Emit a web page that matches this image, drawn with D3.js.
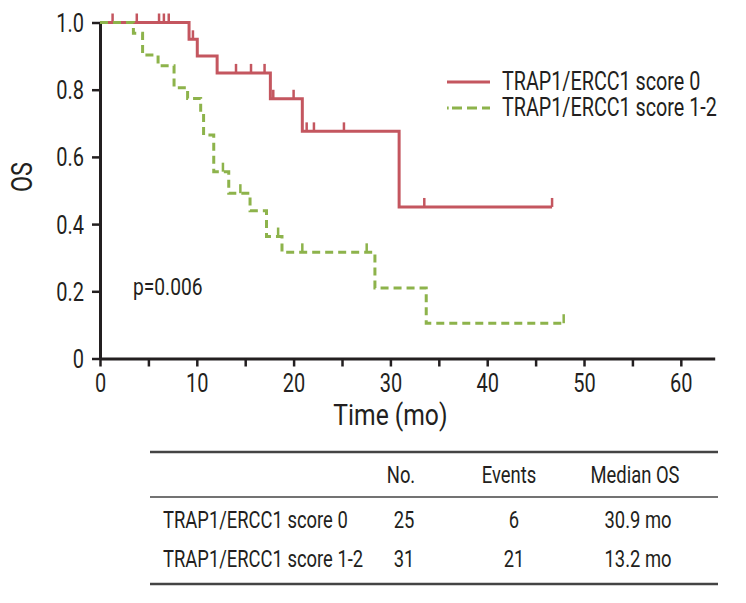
<!DOCTYPE html>
<html><head><meta charset="utf-8">
<script src="https://cdn.jsdelivr.net/npm/d3@7"></script>
<style>
body{margin:0;background:#fff;}
svg text{font-family:Roboto,'Liberation Sans',sans-serif;fill:#231f20;}
</style></head><body>
<svg id="c" width="746" height="603"></svg>
<script>
// Kaplan-Meier step data (time in months, survival)
const redTimes = [0, 9.2, 10.05, 12.1, 17.6, 20.9, 30.9];
const redSurv  = [1, 0.95, 0.90, 0.85, 0.773, 0.676, 0.451];
const redEnd = 46.7;
const redCensor = [1.3, 3.8, 6.1, 6.6, 7.1, 9.6, 14.05, 15.6, 17.0, 17.9, 20.0, 21.35, 22.1, 25.2, 33.5, 46.7];

const greenTimes = [0, 3.45, 4.4, 6.0, 7.65, 9.05, 10.4, 10.7, 11.75, 13.3, 15.5, 17.2, 18.8, 28.4, 33.7];
const greenSurv  = [1, 0.968, 0.903, 0.871, 0.806, 0.774, 0.73, 0.665, 0.556, 0.492, 0.44, 0.363, 0.316, 0.21, 0.105];
const greenEnd = 47.9;
const greenCensor = [12.7, 14.5, 18.4, 20.9, 27.55, 47.9];

const seriesNames = ["TRAP1/ERCC1 score 0", "TRAP1/ERCC1 score 1-2"];
const yTicks = [0, 0.2, 0.4, 0.6, 0.8, 1.0];
const xTicks = [0,5,10,15,20,25,30,35,40,45,50,55,60];
const pText = "p=0.006";
const tableHeader = ["", "No.", "Events", "Median OS"];
const tableNo = [25, 31];
const tableEvents = [6, 21];
const tableMedian = ["30.9 mo", "13.2 mo"];

const RED = "#c4565f", GREEN = "#8db34b", INK = "#231f20";
const SX = 0.8; // condensed look
const svg = d3.select("#c");
const x = d3.scaleLinear().domain([0, 63.5]).range([100, 714.7]);
const y = d3.scaleLinear().domain([0, 1]).range([358.5, 22.5]);

function txt(px, py, s, size, anchor, sx){
  return svg.append("text")
    .attr("transform", `translate(${px},${py}) scale(${sx||SX},1)`)
    .attr("text-anchor", anchor||"start").attr("font-size", size).text(s);
}
function stepPts(ts, ss, end){
  const p = ts.map((t,i)=>[t, ss[i]]);
  p.push([end, ss[ss.length-1]]);
  return p;
}
function survAt(ts, ss, t){
  let v = ss[0];
  for(let i=0;i<ts.length;i++){ if(ts[i] <= t) v = ss[i]; }
  return v;
}
const line = d3.line().x(d=>x(d[0])).y(d=>y(d[1])).curve(d3.curveStepAfter);

// axes
const yAxis = svg.append("g").attr("transform","translate(100,0)")
  .call(d3.axisLeft(y).tickValues(yTicks).tickSize(8).tickSizeOuter(0)
    .tickFormat(d=> d===0 ? "0" : d3.format(".1f")(d)));
yAxis.selectAll(".tick text").attr("x", null).attr("dy", null)
  .attr("transform","translate(-16,9) scale(" + SX + ",1)");
const xAxis = svg.append("g").attr("transform","translate(0,358.5)")
  .call(d3.axisBottom(x).tickValues(xTicks).tickSize(8).tickSizeOuter(0)
    .tickFormat(d=> d%10===0 ? d : ""));
xAxis.selectAll(".tick text").attr("y", null).attr("dy", null)
  .attr("transform","translate(0,33) scale(" + SX + ",1)");
[yAxis, xAxis].forEach(g=>{
  g.select(".domain").attr("stroke", INK).attr("stroke-width", 3);
  g.selectAll(".tick line").attr("stroke", INK).attr("stroke-width", 2.5);
  g.selectAll(".tick text").attr("font-size", 25).style("fill", INK);
});

// curves
svg.append("path").attr("d", line(stepPts(redTimes, redSurv, redEnd)))
  .attr("fill","none").attr("stroke",RED).attr("stroke-width",3);
svg.append("g").selectAll("line").data(redCensor).join("line")
  .attr("x1", d=>x(d)).attr("x2", d=>x(d))
  .attr("y1", d=>y(survAt(redTimes, redSurv, d))).attr("y2", d=>y(survAt(redTimes, redSurv, d))-9)
  .attr("stroke", RED).attr("stroke-width", 2.5);

svg.append("path").attr("d", line(stepPts(greenTimes, greenSurv, greenEnd)))
  .attr("fill","none").attr("stroke",GREEN).attr("stroke-width",3).attr("stroke-dasharray","8,5");
svg.append("g").selectAll("line").data(greenCensor).join("line")
  .attr("x1", d=>x(d)).attr("x2", d=>x(d))
  .attr("y1", d=>y(survAt(greenTimes, greenSurv, d))).attr("y2", d=>y(survAt(greenTimes, greenSurv, d))-9)
  .attr("stroke", GREEN).attr("stroke-width", 2.5);

// labels
svg.append("text").attr("transform","translate(32,177) rotate(-90) scale(0.78,1)").attr("text-anchor","middle")
  .attr("font-size",30).text("OS");
txt(x(30), 425, "Time (mo)", 29, "middle", 0.85);
txt(133, 295, pText, 24, "start");

// legend
const legY = [82, 108];
svg.append("line").attr("x1",447).attr("x2",490).attr("y1",legY[0]).attr("y2",legY[0])
  .attr("stroke",RED).attr("stroke-width",3);
svg.append("line").attr("x1",447).attr("x2",490).attr("y1",legY[1]).attr("y2",legY[1])
  .attr("stroke",GREEN).attr("stroke-width",3).attr("stroke-dasharray","1.7,3.3,10,5,10,5,10");
seriesNames.forEach((n,i)=>{ txt(502, legY[i]+8, n, 25, "start", 0.79); });

// table
const tl = 150, tr = 718;
[[452,2.5],[497,1.5],[584,2.5]].forEach(([yy,w])=>{
  svg.append("line").attr("x1",tl).attr("x2",tr).attr("y1",yy).attr("y2",yy)
    .attr("stroke","#444").attr("stroke-width",w);
});
const colX = [163, 401, 509, 635];
tableHeader.forEach((h,i)=>{ if(i>0) txt(colX[i], 483, h, 23, "middle"); });
const rowY = [528, 567];
seriesNames.forEach((n,i)=>{
  txt(colX[0], rowY[i], n, 23, "start");
  txt(colX[1]+3, rowY[i], tableNo[i], 23, "middle");
  txt(colX[2]+5, rowY[i], tableEvents[i], 23, "middle");
  txt(colX[3]+3, rowY[i], tableMedian[i], 23, "middle");
});
</script>
</body></html>
